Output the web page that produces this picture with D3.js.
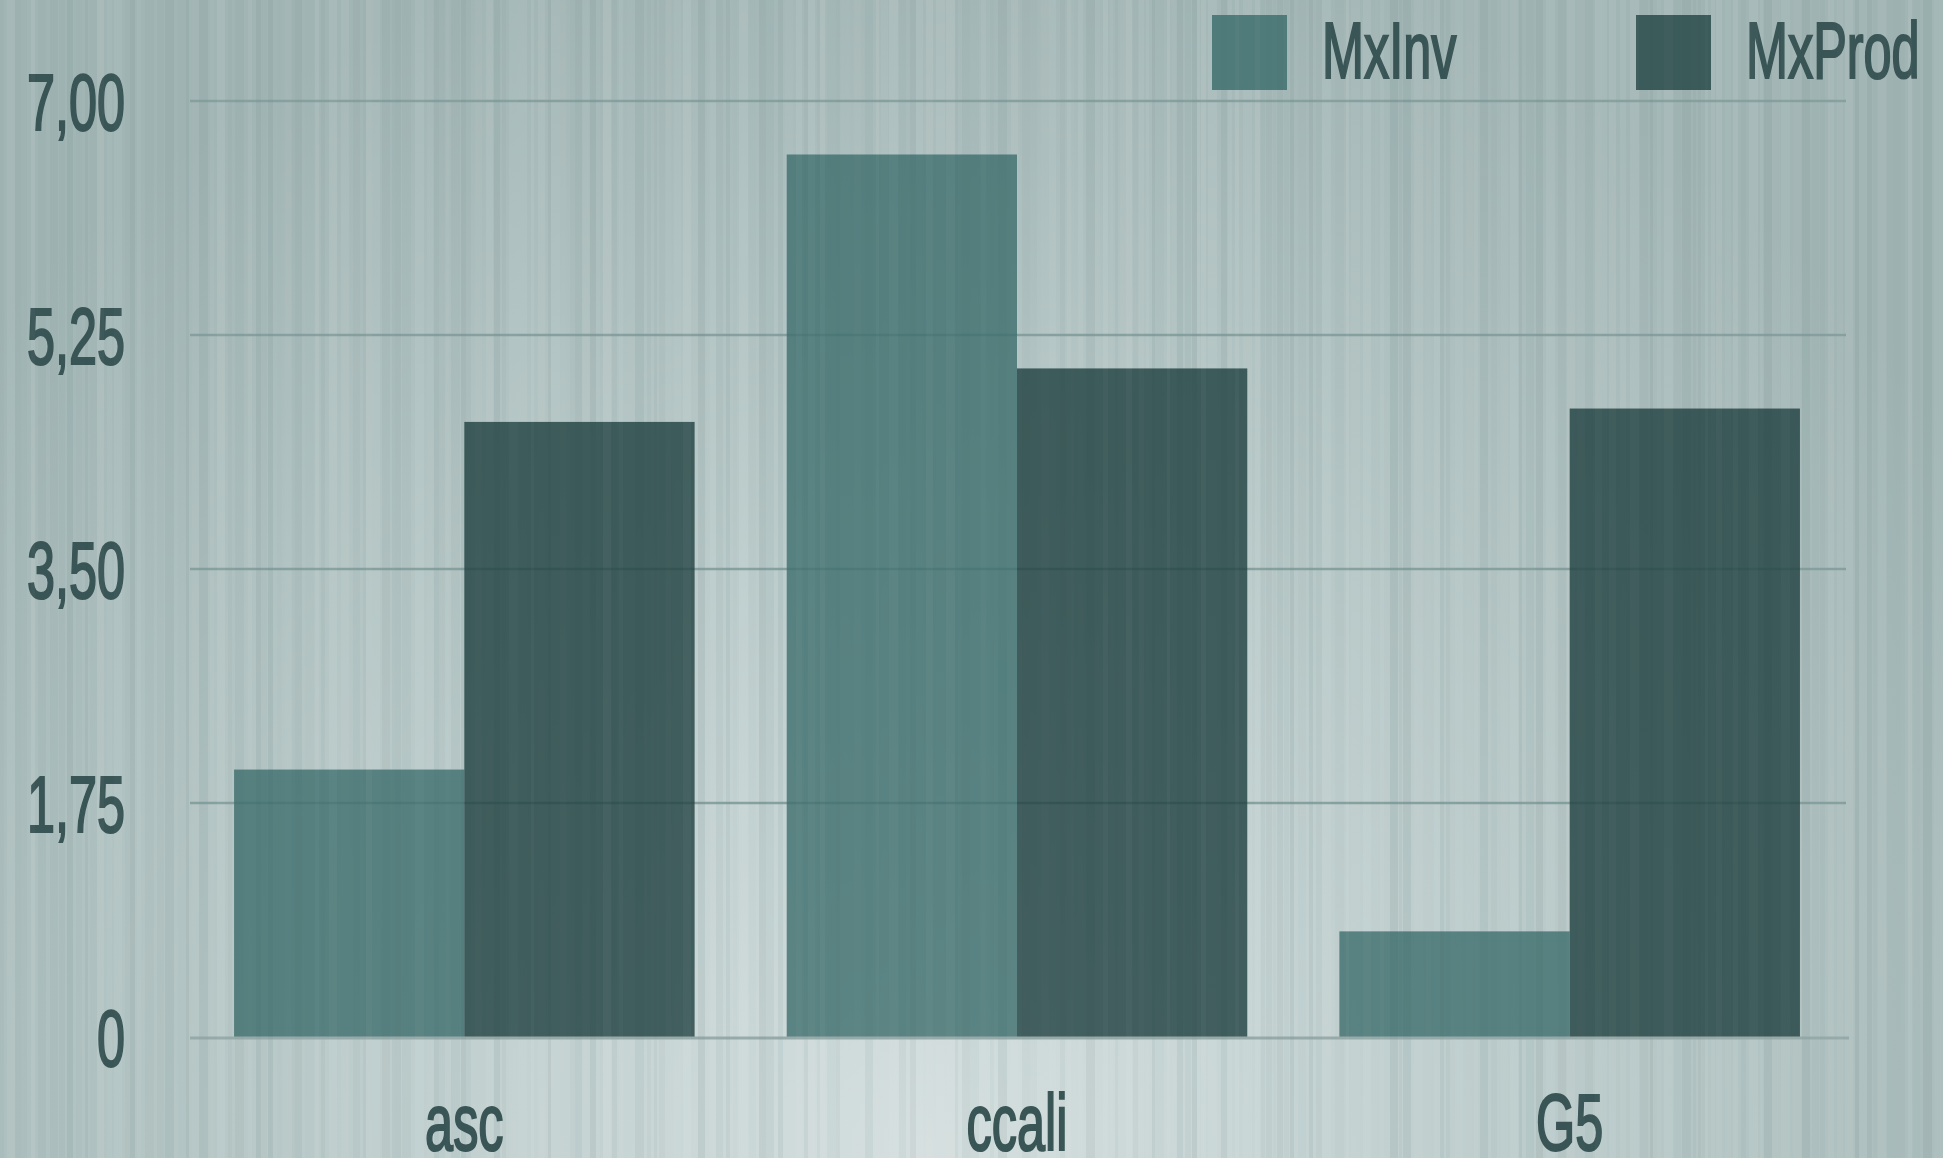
<!DOCTYPE html>
<html>
<head>
<meta charset="utf-8">
<script src="https://cdn.jsdelivr.net/npm/d3@7"></script>
<style>
  html, body { margin: 0; padding: 0; background: #b8c8c8; overflow: hidden; }
  svg { display: block; }
</style>
</head>
<body>
<svg id="chart" width="1943" height="1158"></svg>
<script>
// ---- data ----
const categories = ["asc", "ccali", "G5"];
const seriesNames = ["MxInv", "MxProd"];
const mxInv  = [2.00, 6.60, 0.79];
const mxProd = [4.60, 5.00, 4.70];
const tickValues = [0, 1.75, 3.5, 5.25, 7];
const tickLabels = ["0", "1,75", "3,50", "5,25", "7,00"];

// ---- look ----
const W = 1943, H = 1158;
const textColor = "#3a5556";
const barColors = { MxInv: "#3d6e6d", MxProd: "#1f4040" };
const legendColors = { MxInv: "#4f7b7a", MxProd: "#3b5a5a" };
const fontFamily = "'Liberation Sans', Arial, sans-serif";
const fontSize = 80;
const squeeze = 0.63;   // narrow, condensed lettering

const svg = d3.select("#chart");
const defs = svg.append("defs");

// soft light pool at the bottom centre, darker towards the edges
const bgGrad = defs.append("radialGradient")
  .attr("id", "bgGrad")
  .attr("gradientUnits", "userSpaceOnUse")
  .attr("cx", 930).attr("cy", 1150).attr("r", 1250);
bgGrad.append("stop").attr("offset", "0%").attr("stop-color", "#d5dfdf");
bgGrad.append("stop").attr("offset", "35%").attr("stop-color", "#c3d1d1");
bgGrad.append("stop").attr("offset", "70%").attr("stop-color", "#b0c2c1");
bgGrad.append("stop").attr("offset", "100%").attr("stop-color", "#a1b5b4");

svg.append("rect").attr("width", W).attr("height", H).attr("fill", "url(#bgGrad)");

// brushed pinstripe texture (deterministic hash, purely decorative)
function hash(i) {
  const s = Math.sin(i * 12.9898 + 78.233) * 43758.5453;
  return s - Math.floor(s);
}
const stripes = [];
for (let x = 0, i = 0; x < W; i++) {
  const w = 3 + Math.floor(hash(i) * 7);
  stripes.push({ x, w, k: hash(i + 1000), o: hash(i + 2000) });
  x += w + Math.floor(hash(i + 3000) * 5);
}
const stripeLayer = svg.append("g");
stripeLayer.selectAll("rect")
  .data(stripes)
  .join("rect")
  .attr("x", d => d.x)
  .attr("y", 0)
  .attr("width", d => d.w)
  .attr("height", H)
  .attr("fill", d => d.k > 0.5 ? "#e4ecec" : "#7c9494")
  .attr("opacity", d => 0.03 + d.o * 0.07);

// ---- scales ----
const x0 = d3.scaleBand()
  .domain(categories)
  .range([188, 1846])
  .paddingInner(1 / 6)
  .paddingOuter(1 / 12);
const x1 = d3.scaleBand()
  .domain(seriesNames)
  .range([0, x0.bandwidth()])
  .padding(0);
const y = d3.scaleLinear().domain([0, 7]).range([1037, 101]);

// ---- grid ----
svg.append("g")
  .selectAll("line")
  .data(tickValues.filter(v => v > 0))
  .join("line")
  .attr("x1", 190).attr("x2", 1846)
  .attr("y1", d => y(d)).attr("y2", d => y(d))
  .attr("stroke", "#86a0a0")
  .attr("stroke-width", 2.5);

// ---- y axis labels ----
const yAxis = svg.append("g")
  .attr("transform", "translate(190,0)")
  .call(d3.axisLeft(y)
    .tickValues(tickValues)
    .tickFormat((d, i) => tickLabels[i])
    .tickSize(0)
    .tickPadding(65));
yAxis.select(".domain").remove();
yAxis.selectAll("text")
  .attr("x", 0)
  .attr("dy", "0.36em")
  .attr("transform", `translate(-65,0) scale(${squeeze},1)`)
  .attr("fill", textColor)
  .attr("stroke", textColor)
  .attr("stroke-width", 2.2)
  .style("font-family", fontFamily)
  .style("font-size", fontSize + "px");

// ---- bars ----
const rows = categories.map((c, i) => ({
  category: c,
  values: [
    { key: "MxInv", value: mxInv[i] },
    { key: "MxProd", value: mxProd[i] }
  ]
}));

svg.append("g")
  .selectAll("g")
  .data(rows)
  .join("g")
  .attr("transform", d => `translate(${x0(d.category)},0)`)
  .selectAll("rect")
  .data(d => d.values)
  .join("rect")
  .attr("x", d => x1(d.key))
  .attr("y", d => y(d.value))
  .attr("width", x1.bandwidth())
  .attr("height", d => y(0) - y(d.value))
  .attr("fill", d => barColors[d.key])
  .attr("fill-opacity", 0.8);

// baseline
svg.append("line")
  .attr("x1", 190).attr("x2", 1849)
  .attr("y1", y(0) + 1).attr("y2", y(0) + 1)
  .attr("stroke", "#97aaaa")
  .attr("stroke-width", 3);

// ---- category labels ----
svg.append("g")
  .selectAll("text")
  .data(categories)
  .join("text")
  .attr("transform", d => `translate(${x0(d) + x0.bandwidth() / 2},1150) scale(${squeeze},1)`)
  .attr("text-anchor", "middle")
  .attr("fill", textColor)
  .attr("stroke", textColor)
  .attr("stroke-width", 2.2)
  .style("font-family", fontFamily)
  .style("font-size", fontSize + "px")
  .text(d => d);

// ---- legend ----
const legendX = [1212, 1636];
const legend = svg.append("g")
  .selectAll("g")
  .data(seriesNames)
  .join("g")
  .attr("transform", (d, i) => `translate(${legendX[i]},15)`);
legend.append("rect")
  .attr("width", 75).attr("height", 75)
  .attr("fill", d => legendColors[d]);
legend.append("text")
  .attr("transform", `translate(110,63) scale(${squeeze},1)`)
  .attr("fill", textColor)
  .attr("stroke", textColor)
  .attr("stroke-width", 2.2)
  .style("font-family", fontFamily)
  .style("font-size", fontSize + "px")
  .text(d => d);

// faint texture over everything, so the bars carry the grain too
svg.append("g")
  .selectAll("rect")
  .data(stripes.filter((d, i) => i % 2 === 0))
  .join("rect")
  .attr("x", d => d.x)
  .attr("y", 0)
  .attr("width", d => d.w)
  .attr("height", H)
  .attr("fill", d => d.k > 0.5 ? "#ffffff" : "#2e4646")
  .attr("opacity", d => 0.01 + d.o * 0.02)
  .attr("pointer-events", "none");
</script>
</body>
</html>
